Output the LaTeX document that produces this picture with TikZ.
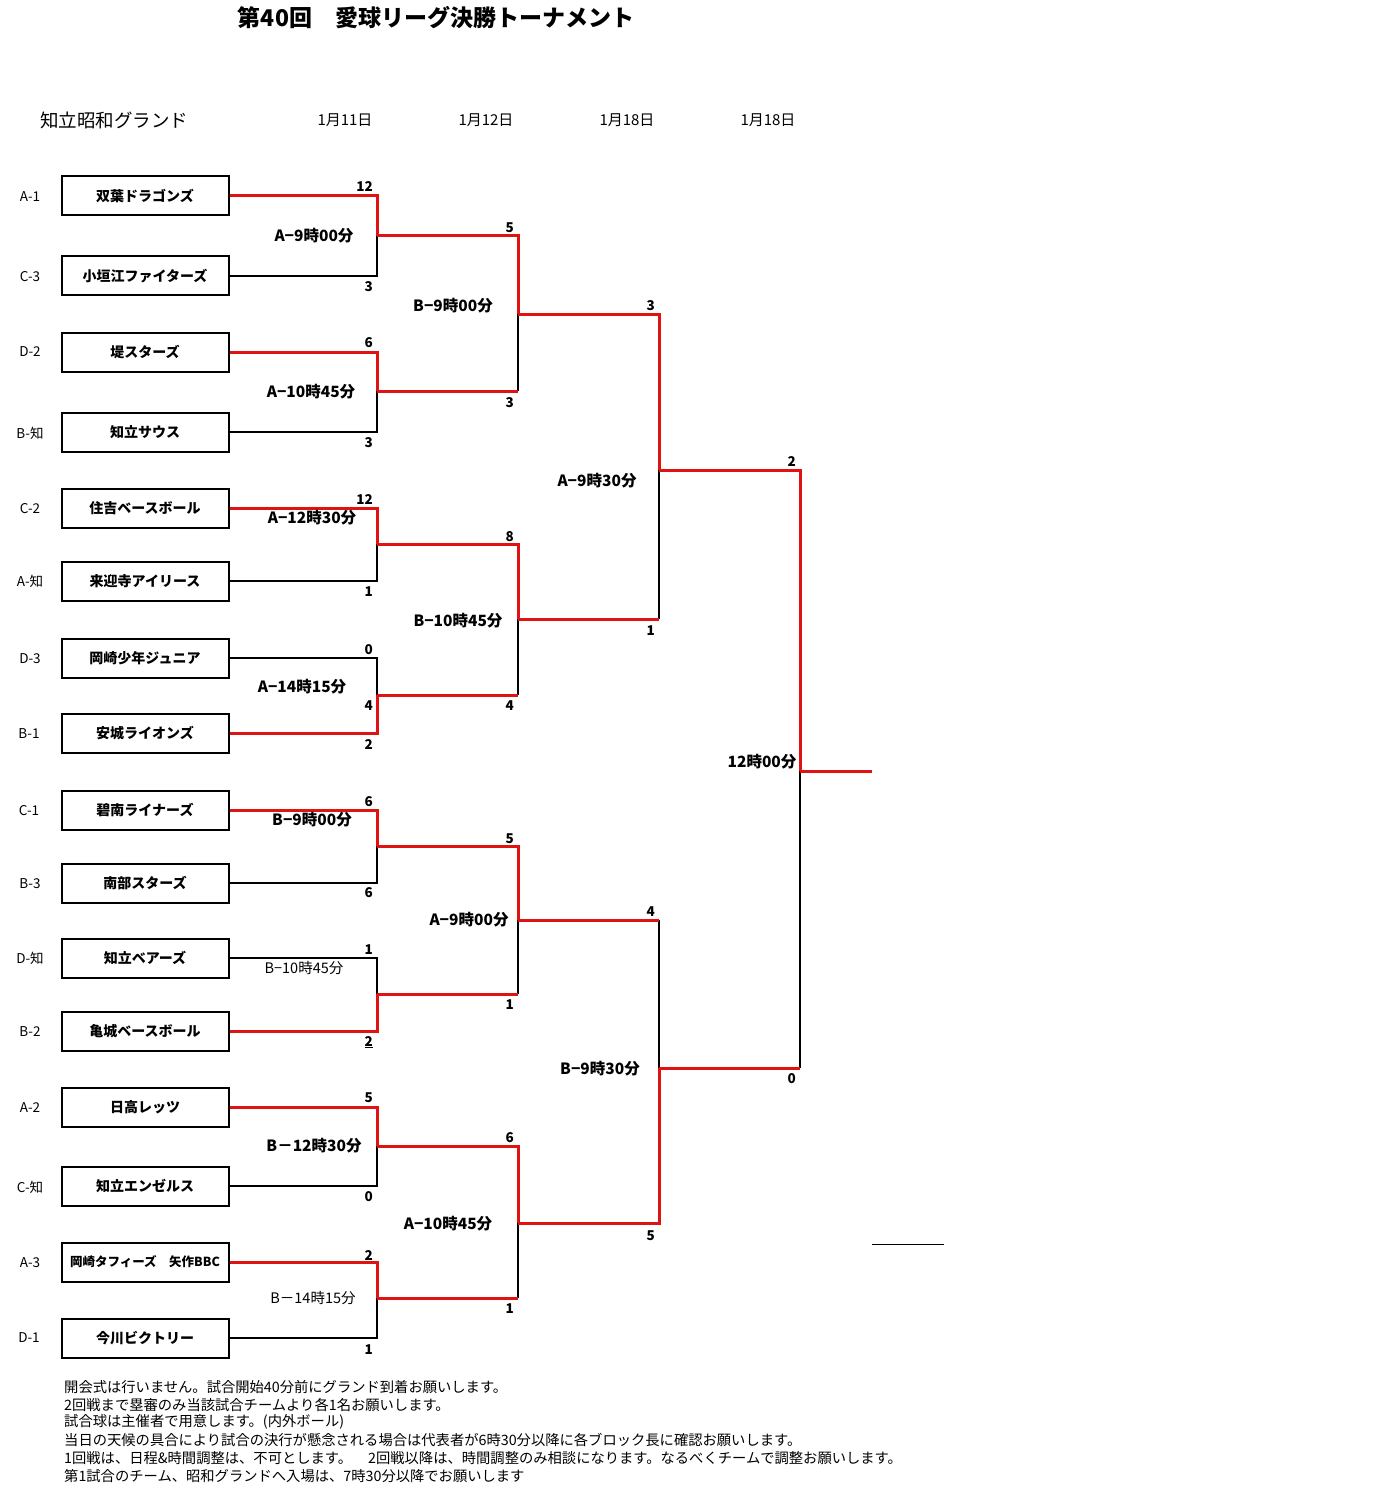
\documentclass[tikz,border=0pt]{standalone}
\usepackage{fontspec}
\setmainfont{Noto Sans CJK JP}
\definecolor{wred}{RGB}{224,18,18}
\begin{document}
\begin{tikzpicture}[x=1pt,y=-1pt,
  team/.style={draw, line width=2pt, minimum width=167pt, minimum height=39pt, inner sep=0pt, font=\fontsize{14}{16}\selectfont\bfseries},
  code/.style={font=\fontsize{13.5}{15}\selectfont, inner sep=0pt},
  score/.style={font=\fontsize{13.5}{14}\selectfont\bfseries, anchor=east, inner sep=0pt},
  mtime/.style={font=\fontsize{15.5}{17}\selectfont\bfseries, inner sep=0pt},
  mtimel/.style={font=\fontsize{14.5}{16}\selectfont, inner sep=0pt},
  dates/.style={font=\fontsize{15}{17}\selectfont, inner sep=0pt},
  note/.style={font=\fontsize{14.3}{16}\selectfont, anchor=west, inner sep=0pt},
  wline/.style={draw=wred, line width=3pt},
  lline/.style={draw=black, line width=1.8pt}]
\useasboundingbox (0,0) rectangle (1380,1503);
\fill[white] (0,0) rectangle (1380,1503);

% title and header
\node[font=\fontsize{23}{26}\selectfont\bfseries, inner sep=0pt] (title) at (436,18) {第40回　愛球リーグ決勝トーナメント};
\node[font=\fontsize{18.5}{20}\selectfont, inner sep=0pt] (ground) at (114,120) {知立昭和グランド};
\node[dates] (d1) at (345,120) {1月11日};
\node[dates] (d2) at (486,120) {1月12日};
\node[dates] (d3) at (627,120) {1月18日};
\node[dates] (d4) at (768,120) {1月18日};

% teams
\node[team] (t1) at (145,196) {双葉ドラゴンズ};
\node[team] (t2) at (145,276) {小垣江ファイターズ};
\node[team] (t3) at (145,352) {堤スターズ};
\node[team] (t4) at (145,432) {知立サウス};
\node[team] (t5) at (145,508) {住吉ベースボール};
\node[team] (t6) at (145,581) {来迎寺アイリース};
\node[team] (t7) at (145,658) {岡崎少年ジュニア};
\node[team] (t8) at (145,733) {安城ライオンズ};
\node[team] (t9) at (145,810) {碧南ライナーズ};
\node[team] (t10) at (145,883) {南部スターズ};
\node[team] (t11) at (145,958) {知立ベアーズ};
\node[team] (t12) at (145,1031) {亀城ベースボール};
\node[team] (t13) at (145,1107) {日高レッツ};
\node[team] (t14) at (145,1186) {知立エンゼルス};
\node[team, font=\fontsize{12.5}{14}\selectfont\bfseries] (t15) at (145,1262) {岡崎タフィーズ　矢作BBC};
\node[team] (t16) at (145,1338) {今川ビクトリー};

% codes
\node[code] (c1) at (30,197) {A-1};
\node[code] (c2) at (30,277) {C-3};
\node[code] (c3) at (30,352) {D-2};
\node[code] (c4) at (30,433) {B-知};
\node[code] (c5) at (30,509) {C-2};
\node[code] (c6) at (30,581) {A-知};
\node[code] (c7) at (30,659) {D-3};
\node[code] (c8) at (29,734) {B-1};
\node[code] (c9) at (29,811) {C-1};
\node[code] (c10) at (30,884) {B-3};
\node[code] (c11) at (30,958) {D-知};
\node[code] (c12) at (30,1032) {B-2};
\node[code] (c13) at (30,1108) {A-2};
\node[code] (c14) at (30,1187) {C-知};
\node[code] (c15) at (30,1263) {A-3};
\node[code] (c16) at (29,1338) {D-1};

% junctions
\coordinate (j1) at (377,236);
\coordinate (j2) at (377,391);
\coordinate (j3) at (377,544);
\coordinate (j4) at (377,695);
\coordinate (j5) at (377,846);
\coordinate (j6) at (377,994);
\coordinate (j7) at (377,1146);
\coordinate (j8) at (377,1298);
\coordinate (k1) at (518,314);
\coordinate (k2) at (518,619);
\coordinate (k3) at (518,920);
\coordinate (k4) at (518,1223);
\coordinate (l1) at (659,470);
\coordinate (l2) at (659,1068);
\coordinate (f) at (800,771);
\coordinate (fe) at (872,771);
\coordinate (s1) at (872,1244);
\coordinate (s2) at (944,1244);

% round 1 losers (black)
\draw[lline] (t2.east) -| (j1);
\draw[lline] (t4.east) -| (j2);
\draw[lline] (t6.east) -| (j3);
\draw[lline] (t7.east) -| (j4);
\draw[lline] (t10.east) -| (j5);
\draw[lline] (t11.east) -| (j6);
\draw[lline] (t14.east) -| (j7);
\draw[lline] (t16.east) -| (j8);
% round 2+ loser verticals
\draw[lline] (j2 -| k1) -- (k1);
\draw[lline] (j4 -| k2) -- (k2);
\draw[lline] (j6 -| k3) -- (k3);
\draw[lline] (j8 -| k4) -- (k4);
\draw[lline] (k2 -| l1) -- (l1);
\draw[lline] (k3 -| l2) -- (l2);
\draw[lline] (l2 -| f) -- (f);

% round 1 winners (red)
\draw[wline] (t1.east) -| (j1);
\draw[wline] (t3.east) -| (j2);
\draw[wline] (t5.east) -| (j3);
\draw[wline] (t8.east) -| (j4);
\draw[wline] (t9.east) -| (j5);
\draw[wline] (t12.east) -| (j6);
\draw[wline] (t13.east) -| (j7);
\draw[wline] (t15.east) -| (j8);
% round 2
\draw[wline] (j1) -| (k1);
\draw[wline] (j2) -- (j2 -| k1);
\draw[wline] (j3) -| (k2);
\draw[wline] (j4) -- (j4 -| k2);
\draw[wline] (j5) -| (k3);
\draw[wline] (j6) -- (j6 -| k3);
\draw[wline] (j7) -| (k4);
\draw[wline] (j8) -- (j8 -| k4);
% round 3
\draw[wline] (k1) -| (l1);
\draw[wline] (k2) -- (k2 -| l1);
\draw[wline] (k3) -- (k3 -| l2);
\draw[wline] (k4) -| (l2);
% round 4
\draw[wline] (l1) -| (f);
\draw[wline] (l2) -- (l2 -| f);
\draw[wline] (f) -- (fe);
\draw[line width=1pt] (s1) -- (s2);

% scores round 1
\node[score] (p1) at (373,187) {12};
\node[score] (p2) at (373,287) {3};
\node[score] (p3) at (373,343) {6};
\node[score] (p4) at (373,443) {3};
\node[score] (p5) at (373,500) {12};
\node[score] (p6) at (373,592) {1};
\node[score] (p7) at (373,650) {0};
\node[score] (p7b) at (373,706) {4};
\node[score] (p8) at (373,744) {2};
\node[score] (p9) at (373,802) {6};
\node[score] (p10) at (373,893) {6};
\node[score] (p11) at (373,950) {1};
\node[score] (p12) at (373,1042) {\underline{2}};
\node[score] (p13) at (373,1098) {5};
\node[score] (p14) at (373,1197) {0};
\node[score] (p15) at (373,1255) {2};
\node[score] (p16) at (373,1350) {1};
% scores round 2
\node[score] (q1) at (514,228) {5};
\node[score] (q2) at (514,403) {3};
\node[score] (q3) at (514,537) {8};
\node[score] (q4) at (514,706) {4};
\node[score] (q5) at (514,839) {5};
\node[score] (q6) at (514,1005) {1};
\node[score] (q7) at (514,1138) {6};
\node[score] (q8) at (514,1309) {1};
% scores round 3
\node[score] (r1) at (655,306) {3};
\node[score] (r2) at (655,631) {1};
\node[score] (r3) at (655,912) {4};
\node[score] (r4) at (655,1236) {5};
% scores round 4
\node[score] (u1) at (796,462) {2};
\node[score] (u2) at (796,1079) {0};

% match times
\node[mtime] (m1) at (314,236) {A−9時00分};
\node[mtime] (m2) at (311,392) {A−10時45分};
\node[mtime] (m3) at (312,518) {A−12時30分};
\node[mtime] (m4) at (302,687) {A−14時15分};
\node[mtime] (m5) at (312,820) {B−9時00分};
\node[mtimel] (m6) at (304,968) {B−10時45分};
\node[mtime] (m7) at (314,1146) {B－12時30分};
\node[mtimel] (m8) at (313,1298) {B－14時15分};
\node[mtime] (n1) at (453,306) {B−9時00分};
\node[mtime] (n2) at (458,621) {B−10時45分};
\node[mtime] (n3) at (469,920) {A−9時00分};
\node[mtime] (n4) at (448,1224) {A−10時45分};
\node[mtime] (o1) at (597,481) {A−9時30分};
\node[mtime] (o2) at (600,1069) {B−9時30分};
\node[mtime] (o3) at (762,762) {12時00分};

% notes
\node[note] (x1) at (64,1387) {開会式は行いません。試合開始40分前にグランド到着お願いします。};
\node[note] (x2) at (64,1405) {2回戦まで塁審のみ当該試合チームより各1名お願いします。};
\node[note] (x3) at (64,1422) {試合球は主催者で用意します。(内外ボール)};
\node[note] (x4) at (64,1440) {当日の天候の具合により試合の決行が懸念される場合は代表者が6時30分以降に各ブロック長に確認お願いします。};
\node[note] (x5) at (64,1458) {1回戦は、日程\&時間調整は、不可とします。\hspace{16pt}2回戦以降は、時間調整のみ相談になります。なるべくチームで調整お願いします。};
\node[note] (x6) at (64,1476) {第1試合のチーム、昭和グランドへ入場は、7時30分以降でお願いします};
\end{tikzpicture}
\end{document}
